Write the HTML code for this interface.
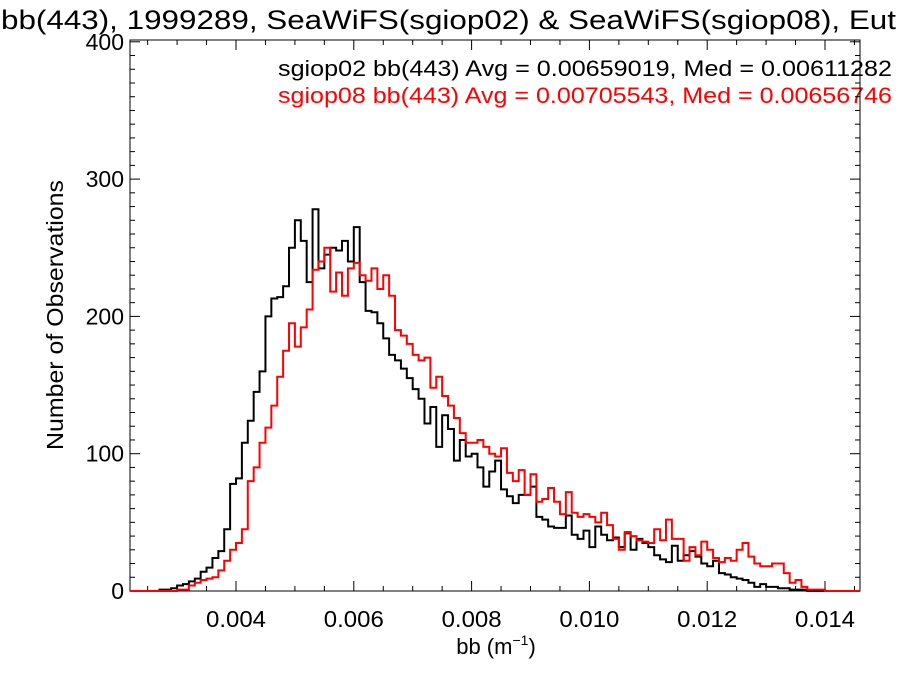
<!DOCTYPE html>
<html><head><meta charset="utf-8"><style>
body{margin:0;background:#fff;}
svg text{font-family:"Liberation Sans",sans-serif;}
</style></head><body>
<svg id="chart" width="900" height="675" xmlns="http://www.w3.org/2000/svg">
<rect width="900" height="675" fill="#fff"/>
<text x="1" y="29" font-size="27" textLength="895" lengthAdjust="spacingAndGlyphs">bb(443), 1999289, SeaWiFS(sgiop02) &amp; SeaWiFS(sgiop08), Eut</text>
<text x="278" y="76" font-size="22" textLength="614" lengthAdjust="spacingAndGlyphs" fill="#000">sgiop02 bb(443) Avg = 0.00659019, Med = 0.00611282</text>
<text x="278" y="103" font-size="22" textLength="614" lengthAdjust="spacingAndGlyphs" fill="#f00">sgiop08 bb(443) Avg = 0.00705543, Med = 0.00656746</text>
<g id="axes"></g>
<g id="series"></g>
<text transform="translate(63,315) rotate(-90)" font-size="23" text-anchor="middle" textLength="270" lengthAdjust="spacingAndGlyphs">Number of Observations</text>
<text x="496" y="654" font-size="22" text-anchor="middle">bb (m<tspan font-size="14" dy="-9">−1</tspan><tspan dy="9">)</tspan></text>
</svg>
<script>
const binStart = 0.0025;
const binWidth = 0.0001;
const sgiop02Counts = [0,0,1,1,2,4,5,7,9,14,17,24,29,45,78,82,108,124,145,160,200,213,214,222,250,270,255,225,278,235,245,250,248,255,240,265,225,204,203,195,184,172,168,162,155,147,140,122,134,105,128,118,95,110,98,100,90,76,87,95,74,69,64,70,70,76,54,52,47,46,46,55,41,38,44,32,47,41,37,39,32,42,30,38,35,32,26,23,21,33,22,26,29,25,20,18,22,13,12,10,9,8,6,3,5,3,3,2,2,1,1,1,0];
const sgiop08Counts = [0,0,0,0,0,1,1,4,6,8,9,10,15,22,30,35,45,80,90,108,119,135,156,175,195,178,192,205,234,240,250,218,232,215,235,239,230,226,235,220,230,215,190,186,180,172,168,170,148,156,142,135,126,115,108,108,110,105,100,98,104,86,80,88,70,85,65,67,75,65,56,72,57,54,56,54,50,57,48,38,30,43,40,37,36,35,45,37,52,38,38,22,32,26,36,30,24,21,24,22,30,35,25,20,18,18,20,20,13,6,8,3,1,1,1,0];
const xTicks = [0.004,0.006,0.008,0.010,0.012,0.014];
const xTickLabels = ["0.004","0.006","0.008","0.010","0.012","0.014"];
const yTicks = [0,100,200,300,400];
const yTickLabels = ["0","100","200","300","400"];

const L=130,R=860,T=40,B=591;
const xs = v => 236 + (v-0.004)*58900;
const ys = c => B - c*1.373;
const NS="http://www.w3.org/2000/svg";
function mk(tag, attrs, parent){const e=document.createElementNS(NS,tag);for(const k in attrs)e.setAttribute(k,attrs[k]);parent.appendChild(e);return e;}
const axes=document.getElementById('axes');
const series=document.getElementById('series');

for(let v=0.0025; v<=0.0146; v+=0.0005){
  const x=xs(v); if(x<L||x>R) continue;
  const major = xTicks.some(t=>Math.abs(t-v)<1e-7);
  const len = major?10:5;
  const t1=mk('line',{x1:x,x2:x,y1:B,y2:B-len,stroke:'#000','stroke-width':1},axes);
  
  
  const t2=mk('line',{x1:x,x2:x,y1:T,y2:T+len,stroke:'#000','stroke-width':1},axes);
  
  
}
for(let c=0;c<=400;c+=10){
  const y=ys(c); const major=c%100===0; const len=major?10:5;
  const t1=mk('line',{x1:L,x2:L+len,y1:y,y2:y,stroke:'#000','stroke-width':1},axes);
  
  
  const t2=mk('line',{x1:R,x2:R-len,y1:y,y2:y,stroke:'#000','stroke-width':1},axes);
  
  
}
xTicks.forEach((v,i)=>{
  const t=mk('text',{x:xs(v),y:627,'font-size':23,'text-anchor':'middle',textLength:60,lengthAdjust:'spacingAndGlyphs'},axes);
  
  
  t.textContent=xTickLabels[i];
});
yTicks.forEach((v,i)=>{
  const t=mk('text',{x:124,y:ys(v)+8,'font-size':23,'text-anchor':'end'},axes);
  
  
  t.textContent=yTickLabels[i];
});
const frame=mk('rect',{x:L,y:T,width:R-L,height:B-T,fill:'none',stroke:'#000','stroke-width':1},axes);



function stepPath(counts){
  let d='M'+L+','+ys(0)+' L'+xs(binStart)+','+ys(0);
  counts.forEach((c,i)=>{
    const x0=xs(binStart+i*binWidth), x1=xs(binStart+(i+1)*binWidth);
    d+=' L'+x0+','+ys(c)+' L'+x1+','+ys(c);
  });
  d+=' L'+xs(binStart+counts.length*binWidth)+','+ys(0)+' L'+R+','+ys(0);
  return d;
}
const p1=mk('path',{d:stepPath(sgiop02Counts),fill:'none',stroke:'#000','stroke-width':2},series);


const p2=mk('path',{d:stepPath(sgiop08Counts),fill:'none',stroke:'#f00','stroke-width':2},series);


</script>
</body></html>
